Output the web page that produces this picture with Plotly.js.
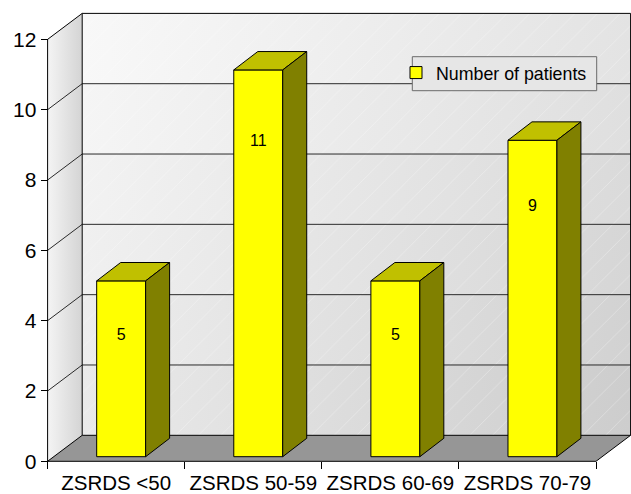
<!DOCTYPE html>
<html>
<head>
<meta charset="utf-8">
<script src="https://cdn.plot.ly/plotly-3.0.1.min.js"></script>
<style>html,body{margin:0;padding:0;background:#fff;}#chart{width:631px;height:494px;}</style>
</head>
<body>
<div id="chart"></div>
<script>
// ---- data ----
const categories = ['ZSRDS <50', 'ZSRDS 50-59', 'ZSRDS 60-69', 'ZSRDS 70-79'];
const patients = [5, 11, 5, 9];
const seriesName = 'Number of patients';
const yTickValues = [0, 2, 4, 6, 8, 10, 12];

// ---- style / geometry (pseudo 3-D look) ----
const W = 631, H = 494;
const X0PX = 47.6, XSCALE = 137.1;      // px of first boundary, px per category
const Y0PX = 461.3, YSCALE = 35.16;     // px of value 0, px per unit
const XMIN = -0.5 - X0PX / XSCALE, XMAX = XMIN + W / XSCALE;
const YMIN = -(H - Y0PX) / YSCALE, YMAX = Y0PX / YSCALE;
const WDX = 0.2524, WDY = 0.7395;       // depth of the walls
const BW = 0.357, BX = 0.0365, BY = 0.131; // bar width and offset from front plane
const BDX = 0.175, BDY = 0.523;         // depth of a bar
const FONT = 'Liberation Sans, Arial, sans-serif';

const idx = categories.map((_, i) => i);
const n = categories.length;
const yTop = yTickValues[yTickValues.length - 1];
const left = -0.5, right = n - 0.5;
const boundaries = idx.map(i => i - 0.5).concat([right]);

function polys(list) {
  const x = [], y = [];
  list.forEach(p => { p.forEach(pt => { x.push(pt[0]); y.push(pt[1]); }); x.push(p[0][0]); y.push(p[0][1]); x.push(null); y.push(null); });
  return {x, y};
}
function segs(list) {
  const x = [], y = [];
  list.forEach(s => { x.push(s[0][0], s[1][0], null); y.push(s[0][1], s[1][1], null); });
  return {x, y};
}
function grey(v) { v = Math.round(v); return 'rgb(' + v + ',' + v + ',' + v + ')'; }

const base = {type: 'scatter', mode: 'lines', showlegend: false, hoverinfo: 'skip', xaxis: 'x', yaxis: 'y'};
const traces = [];

// back wall: bands between gridlines, each with a left-to-right gradient (diagonal light-to-dark look)
for (let k = 0; k < yTickValues.length - 1; k++) {
  const v0 = yTickValues[k], v1 = yTickValues[k + 1], m = (v0 + v1) / 2 / yTop;
  const band = polys([[[left + WDX, v0 + WDY], [right + WDX, v0 + WDY], [right + WDX, v1 + WDY], [left + WDX, v1 + WDY]]]);
  traces.push(Object.assign({}, base, band, {fill: 'toself', line: {width: 0},
    fillgradient: {type: 'horizontal', colorscale: [[0, grey(233 + 16 * m)], [1, grey(203 + 26 * m)]]}}));
}
const backWall = polys([[[left + WDX, WDY], [right + WDX, WDY], [right + WDX, yTop + WDY], [left + WDX, yTop + WDY]]]);
traces.push(Object.assign({}, base, backWall, {fill: 'toself', line: {width: 0}, fillcolor: 'rgba(0,0,0,0)',
  fillpattern: {shape: '/', fgcolor: '#ffffff', fgopacity: 0.35, size: 16, solidity: 0.05}}));

const sideWall = polys([[[left, 0], [left, yTop], [left + WDX, yTop + WDY], [left + WDX, WDY]]]);
traces.push(Object.assign({}, base, sideWall, {fill: 'toself', line: {width: 0},
  fillgradient: {type: 'horizontal', colorscale: [[0, '#f4f4f4'], [1, '#d4d4d4']]}}));

const floor = polys([[[left, 0], [right, 0], [right + WDX, WDY], [left + WDX, WDY]]]);
traces.push(Object.assign({}, base, floor, {fill: 'toself', fillcolor: '#969696', line: {width: 0}}));

const innerTicks = yTickValues.filter(v => v > 0 && v < yTop);
const grid = segs(innerTicks.map(v => [[left + WDX, v + WDY], [right + WDX, v + WDY]])
  .concat(innerTicks.map(v => [[left, v], [left + WDX, v + WDY]])));
traces.push(Object.assign({}, base, grid, {line: {color: '#2a2a2a', width: 1}}));

const frame = segs([
  [[left, 0], [left, yTop]],
  [[left, yTop], [left + WDX, yTop + WDY]],
  [[left + WDX, WDY], [left + WDX, yTop + WDY]],
  [[left + WDX, yTop + WDY], [right + WDX, yTop + WDY]],
  [[right + WDX, WDY], [right + WDX, yTop + WDY]],
  [[left, 0], [right, 0]],
  [[left, 0], [left + WDX, WDY]],
  [[right, 0], [right + WDX, WDY]],
  [[left + WDX, WDY], [right + WDX, WDY]]
]);
traces.push(Object.assign({}, base, frame, {line: {color: '#000000', width: 1}}));

// bars: front faces (bar trace), top and side faces
const tops = polys(patients.map((v, i) => {
  const x0 = i - BW / 2 + BX, x1 = x0 + BW, t = v + BY;
  return [[x0, t], [x1, t], [x1 + BDX, t + BDY], [x0 + BDX, t + BDY]];
}));
const sides = polys(patients.map((v, i) => {
  const x1 = i - BW / 2 + BX + BW, t = v + BY;
  return [[x1, BY], [x1, t], [x1 + BDX, t + BDY], [x1 + BDX, BY + BDY]];
}));

traces.push(
  {type: 'bar', name: seriesName, x: idx, y: patients, base: BY, width: BW, offset: -BW / 2 + BX,
    xaxis: 'x2', yaxis: 'y2', showlegend: true, hoverinfo: 'skip',
    marker: {color: '#ffff00', line: {color: '#000000', width: 1}}},
  {type: 'scatter', mode: 'lines', x: tops.x, y: tops.y, fill: 'toself', fillcolor: '#c0c000',
    line: {color: '#000000', width: 1}, xaxis: 'x2', yaxis: 'y2', showlegend: false, hoverinfo: 'skip'},
  {type: 'scatter', mode: 'lines', x: sides.x, y: sides.y, fill: 'toself', fillcolor: '#808000',
    line: {color: '#000000', width: 1}, xaxis: 'x2', yaxis: 'y2', showlegend: false, hoverinfo: 'skip'},
  {type: 'scatter', mode: 'text', x: idx.map(i => i + BX), y: patients.map(v => 0.92 * v - 1.05),
    text: patients.map(String), textposition: 'middle center', textfont: {family: FONT, size: 16, color: '#000'},
    cliponaxis: false, xaxis: 'x2', yaxis: 'y2', showlegend: false, hoverinfo: 'skip'}
);

const layout = {
  width: W, height: H,
  margin: {l: 0, r: 0, t: 0, b: 0, pad: 0},
  paper_bgcolor: '#ffffff', plot_bgcolor: '#ffffff',
  font: {family: FONT, color: '#000000'},
  showlegend: true,
  legend: {x: 396 / W, y: 1 - 73.0 / H, xanchor: 'left', yanchor: 'middle',
    bgcolor: 'rgba(0,0,0,0)', borderwidth: 0, font: {family: FONT, size: 17.8, color: '#000'}},
  shapes: [{type: 'rect', xref: 'paper', yref: 'paper', layer: 'above',
    x0: 412.3 / W, x1: 596.7 / W, y0: 1 - 90.7 / H, y1: 1 - 56.7 / H,
    fillcolor: '#e6e6e6', line: {color: '#6a6a6a', width: 1}}],
  xaxis: {range: [XMIN, XMAX], anchor: 'free', position: (H - Y0PX) / H, showgrid: false, zeroline: false,
    showline: false, tickmode: 'array', tickvals: idx, ticktext: categories, ticks: '',
    ticklabelstandoff: 7,
    tickfont: {family: FONT, size: 20.5, color: '#000'}, fixedrange: true,
    minor: {tickmode: 'array', tickvals: boundaries, ticks: 'outside', ticklen: 7, tickwidth: 1, tickcolor: '#000', showgrid: false}},
  yaxis: {range: [YMIN, YMAX], anchor: 'free', position: X0PX / W, showgrid: false, zeroline: false,
    showline: false, tickmode: 'array', tickvals: yTickValues, ticks: 'outside', ticklen: 7, tickwidth: 1,
    tickcolor: '#000', tickfont: {family: FONT, size: 21, color: '#000'}, fixedrange: true},
  xaxis2: {overlaying: 'x', anchor: 'y2', range: [XMIN, XMAX], visible: false, fixedrange: true},
  yaxis2: {overlaying: 'y', anchor: 'x2', range: [YMIN, YMAX], visible: false, fixedrange: true}
};

Plotly.newPlot('chart', traces, layout, {displayModeBar: false, staticPlot: true});
</script>
</body>
</html>
